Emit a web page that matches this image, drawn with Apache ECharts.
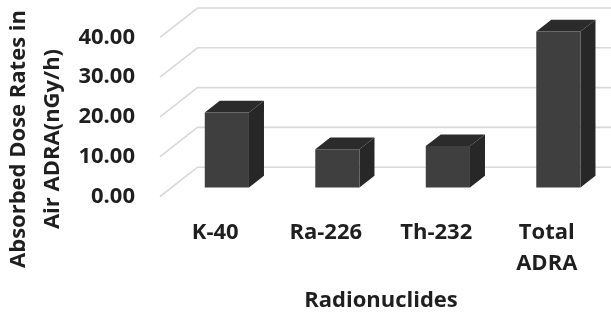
<!DOCTYPE html>
<html>
<head>
<meta charset="utf-8">
<script src="https://cdn.jsdelivr.net/npm/echarts@6/dist/echarts.min.js"></script>
<style>
html,body{margin:0;padding:0;background:#fff;}
#c{width:611px;height:318px;}
</style>
</head>
<body>
<div id="c"></div>
<script>
const categories = ['K-40', 'Ra-226', 'Th-232', 'Total\nADRA'];
const values = [18.85, 9.62, 10.38, 39.2];
const yTicks = [0, 10, 20, 30, 40];
const yTitle = 'Absorbed Dose Rates in\nAir ADRA(nGy/h)';
const xTitle = 'Radionuclides';

const FONT = '"Open Sans", "Noto Sans", sans-serif';
const TXT = '#1f1f1f';
const DX = 37.5, DY = -29.3;       // floor depth offset
const BAR_FRONT = 0.31, BAR_DEPTH = 0.40, BAR_W = 0.40;

const chart = echarts.init(document.getElementById('c'), null, {renderer: 'canvas'});

function renderGrid(params, api) {
  const v = api.value(1);
  const cs = params.coordSys;
  const y = api.coord([0, v])[1];
  const x0 = cs.x;
  return {
    type: 'polyline',
    shape: {points: [[x0, y], [x0 + DX, y + DY], [api.getWidth(), y + DY]]},
    style: {stroke: '#d9d9d9', lineWidth: 1.6, fill: null}
  };
}

function renderBar(params, api) {
  const i = api.value(0);
  const v = api.value(1);
  const base = api.coord([i, 0]);
  const top = api.coord([i, v]);
  const w = api.size([1, 0])[0] * BAR_W;
  const fx = BAR_FRONT * DX, fy = BAR_FRONT * DY;
  const bx = BAR_DEPTH * DX, by = BAR_DEPTH * DY;
  const xl = base[0] - w / 2 + fx, xr = base[0] + w / 2 + fx;
  const yb = base[1] + fy, yt = top[1] + fy;
  return {
    type: 'group',
    children: [
      {type: 'polygon', shape: {points: [[xr, yb], [xr, yt], [xr + bx, yt + by], [xr + bx, yb + by]]},
       style: {fill: '#272727'}},
      {type: 'polygon', shape: {points: [[xl, yt], [xr, yt], [xr + bx, yt + by], [xl + bx, yt + by]]},
       style: {fill: '#2b2b2b'}},
      {type: 'rect', shape: {x: xl, y: yt, width: xr - xl, height: yb - yt},
       style: {fill: '#3f3f3f'}}
    ]
  };
}

const option = {
  backgroundColor: '#ffffff',
  animation: false,
  grid: {left: 160, right: 9, top: 37.3, bottom: 121.5, containLabel: false},
  xAxis: {
    type: 'category',
    data: categories,
    axisLine: {show: false},
    axisTick: {show: false},
    axisLabel: {margin: 21, fontSize: 22, fontWeight: 'bold', fontFamily: FONT, color: TXT, lineHeight: 31, interval: 0},
    name: xTitle,
    nameLocation: 'middle',
    nameGap: 93,
    nameTextStyle: {fontSize: 22, fontWeight: 'bold', fontFamily: FONT, color: TXT}
  },
  yAxis: {
    type: 'value',
    min: 0, max: 40, interval: 10,
    axisLine: {show: false},
    axisTick: {show: false},
    splitLine: {show: false},
    axisLabel: {margin: 25, fontSize: 22, fontWeight: 'bold', fontFamily: FONT, color: TXT,
                padding: [5, 0, 0, 0], formatter: v => v.toFixed(2)}
  },
  graphic: [{
    type: 'text', x: 36, y: 139, rotation: Math.PI / 2,
    style: {text: yTitle, font: 'bold 22px ' + FONT, fill: TXT, align: 'center', verticalAlign: 'middle', lineHeight: 34}
  }],
  series: [
    {type: 'custom', renderItem: renderGrid, data: yTicks.map(v => [0, v]), encode: {x: 0, y: 1}, z: 1, clip: false, silent: true},
    {type: 'custom', renderItem: renderBar, data: values.map((v, i) => [i, v]), encode: {x: 0, y: 1}, z: 2, clip: false}
  ]
};
chart.setOption(option);
</script>
</body>
</html>
